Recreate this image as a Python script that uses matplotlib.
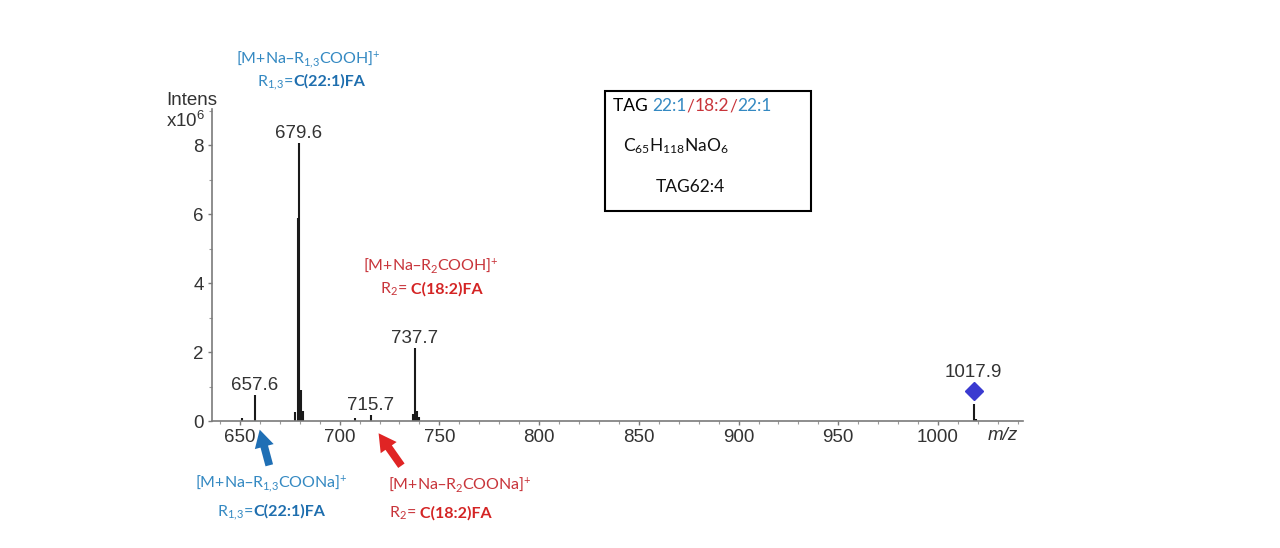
import matplotlib
matplotlib.use('Agg')
import matplotlib.pyplot as plt
from matplotlib.transforms import IdentityTransform
from matplotlib.ticker import MultipleLocator
from matplotlib.patches import FancyArrowPatch, Rectangle

plt.rcParams['mathtext.default'] = 'regular'

W, H = 1280, 548

# ---------------- data ----------------
peak_mz = [651.0, 657.6, 677.6, 678.9, 679.6, 680.6, 681.6, 707.6, 715.7,
           736.7, 737.7, 738.7, 739.7, 1017.9, 1018.9]
peak_int = [0.08, 0.75, 0.25, 5.9, 8.05, 0.9, 0.3, 0.08, 0.17,
            0.2, 2.13, 0.3, 0.12, 0.5, 0.06]
label_mz = [657.6, 679.6, 715.7, 737.7]
label_int = [0.75, 8.05, 0.17, 2.13]
precursor_mz = 1017.9
precursor_marker = 0.86
x_ticks = [650, 700, 750, 800, 850, 900, 950, 1000]
y_ticks = [0, 2, 4, 6, 8]

TICK_FONT = 'Liberation Sans'
ANN_FONT = 'Lato'
GREY_TXT = '#333333'
BLUE = '#3489C2'
BLUE_B = '#1E6EAE'
RED = '#C8343A'
RED_B = '#D42424'

fig = plt.figure(figsize=(W / 100, H / 100), dpi=100)
renderer = fig.canvas.get_renderer()

ax = fig.add_axes([212 / W, 127 / H, 811 / W, 312 / H])
ax.set_xlim(636.0, 1042.6)
ax.set_ylim(0, 9.05)

ax.vlines(peak_mz, 0, peak_int, colors='#1a1a1a', linewidth=1.5)
ax.plot([precursor_mz], [precursor_marker], marker='D', markersize=9,
        color='#3A3AD0', linestyle='none')

for mz, it in zip(label_mz, label_int):
    ax.annotate(f'{mz:.1f}', xy=(mz, it), xytext=(0, 5), textcoords='offset pixels',
                ha='center', va='baseline', fontsize=13.5, family=TICK_FONT, color=GREY_TXT)
ax.annotate(f'{precursor_mz:.1f}', xy=(precursor_mz, precursor_marker), xytext=(0, 14),
            textcoords='offset pixels', ha='center', va='baseline', fontsize=13.5,
            family=TICK_FONT, color=GREY_TXT)

for s in ['top', 'right']:
    ax.spines[s].set_visible(False)
for s in ['left', 'bottom']:
    ax.spines[s].set_color('#7a7a7a')
    ax.spines[s].set_linewidth(1.2)
ax.set_xticks(x_ticks)
ax.set_yticks(y_ticks)
ax.xaxis.set_minor_locator(MultipleLocator(10))
ax.yaxis.set_minor_locator(MultipleLocator(1))
ax.tick_params(which='major', direction='out', length=3, width=1, color='#7a7a7a',
               labelsize=13.5, labelcolor=GREY_TXT, pad=3)
ax.tick_params(which='minor', direction='out', length=2, width=0.8, color='#9a9a9a')
for lab in ax.get_xticklabels() + ax.get_yticklabels():
    lab.set_family(TICK_FONT)

# axis titles
fig.text(166, H - 105, 'Intens', transform=IdentityTransform(), fontsize=13.5,
         family=TICK_FONT, color=GREY_TXT, ha='left', va='baseline')
fig.text(166, H - 127, 'x10$^{6}$', transform=IdentityTransform(), fontsize=13.5,
         family=TICK_FONT, color=GREY_TXT, ha='left', va='baseline')
fig.text(988, H - 440, 'm/z', transform=IdentityTransform(), fontsize=13.5,
         family=TICK_FONT, style='italic', color=GREY_TXT, ha='left', va='baseline')


def rich(x, y_base, segs, ha='center', fs=11.5):
    arts, widths = [], []
    for s, color, weight in segs:
        t = fig.text(0, H - y_base, s, transform=IdentityTransform(), fontsize=fs,
                     family=ANN_FONT, color=color, fontweight=weight,
                     ha='left', va='baseline')
        arts.append(t)
        widths.append(t.get_window_extent(renderer).width)
    total = sum(widths)
    x0 = x - total / 2 if ha == 'center' else x
    for t, w in zip(arts, widths):
        t.set_x(x0)
        x0 += w


def plain_run(x, y_base, segs, fs=12.5):
    # place plain-text segments using widths of the cumulative prefix (keeps kerning tight)
    probe = fig.text(0, 0, '', transform=IdentityTransform(), fontsize=fs, family=ANN_FONT)
    prefix = ''
    for s, color in segs:
        if prefix:
            probe.set_text(prefix + '|')
            w_full = probe.get_window_extent(renderer).width
            probe.set_text('|')
            w_bar = probe.get_window_extent(renderer).width
            off = w_full - w_bar
        else:
            off = 0
        fig.text(x + off, H - y_base, s, transform=IdentityTransform(), fontsize=fs,
                 family=ANN_FONT, color=color, ha='left', va='baseline')
        prefix += s
    probe.remove()


# top blue annotation
rich(308, 63, [('[M+Na–R$_{1{,}3}$COOH]$^{+}$', BLUE, 'normal')])
rich(311, 86, [('R$_{1{,}3}$=', BLUE, 'normal'), ('C(22:1)FA', BLUE_B, 'bold')])
# top red annotation
rich(431, 270, [('[M+Na–R$_{2}$COOH]$^{+}$', RED, 'normal')])
rich(431, 294, [('R$_{2}$=', RED, 'normal'), (' C(18:2)FA', RED_B, 'bold')])
# bottom blue annotation
rich(271, 487, [('[M+Na–R$_{1{,}3}$COONa]$^{+}$', BLUE, 'normal')])
rich(271, 516, [('R$_{1{,}3}$=', BLUE, 'normal'), ('C(22:1)FA', BLUE_B, 'bold')])
# bottom red annotation
rich(388, 489, [('[M+Na–R$_{2}$COONa]$^{+}$', RED, 'normal')], ha='left')
rich(389, 518, [('R$_{2}$=', RED, 'normal'), (' C(18:2)FA', RED_B, 'bold')], ha='left')

# box
fig.add_artist(Rectangle((605, H - 211), 206, 120, transform=IdentityTransform(),
                         fill=False, lw=1.5, ec='black'))
plain_run(613, 111, [('TAG ', 'black'), ('22:1', BLUE), ('/', RED), ('18:2', RED),
                     ('/', RED), ('22:1', BLUE)])
rich(623, 151, [('C$_{65}$H$_{118}$NaO$_{6}$', '#111111', 'normal')], ha='left', fs=12.5)
rich(656, 192, [('TAG62:4', '#111111', 'normal')], ha='left', fs=12.5)

# arrows
fig.add_artist(FancyArrowPatch((270, H - 468), (259, H - 427), transform=IdentityTransform(),
                               arrowstyle='simple,head_length=0.9,head_width=1.0,tail_width=0.4',
                               mutation_scale=14, color='#1F6FB5', lw=0))
fig.add_artist(FancyArrowPatch((403, H - 468), (377, H - 431), transform=IdentityTransform(),
                               arrowstyle='simple,head_length=0.9,head_width=1.0,tail_width=0.4',
                               mutation_scale=14, color='#E02424', lw=0))

fig.savefig('out.png', dpi=100)
